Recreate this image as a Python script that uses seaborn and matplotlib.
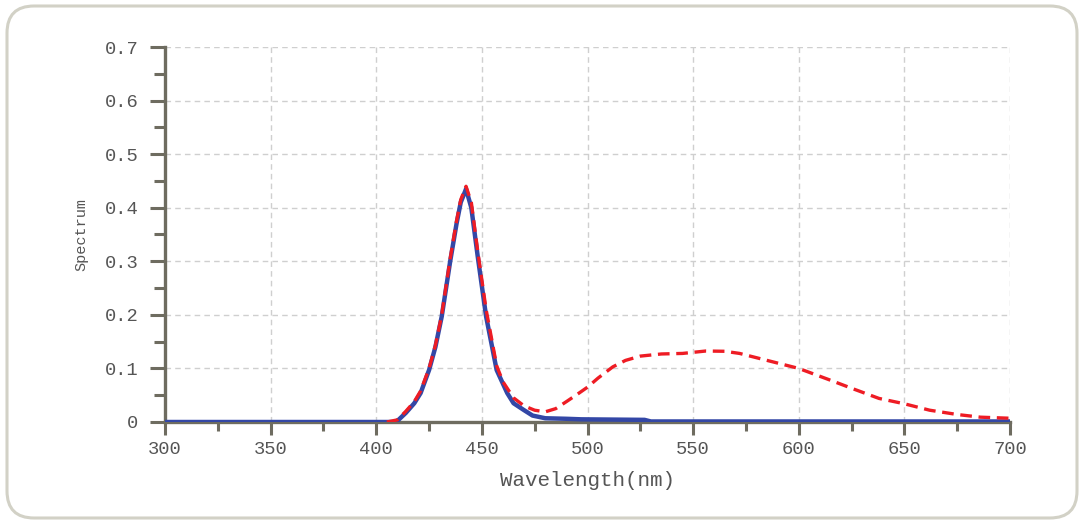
import matplotlib
matplotlib.use("Agg")
import matplotlib.pyplot as plt
from matplotlib.patches import FancyBboxPatch
from matplotlib.ticker import MultipleLocator
import seaborn as sns
import pandas as pd

# Blue (LED chip) spectrum
blue_wl = [300, 350, 400, 408, 410, 414, 418, 421, 425, 428, 431, 435, 438, 440, 442.5,
           445, 448, 452, 457, 462, 465, 470, 474, 480, 490, 497, 527, 530, 600, 700]
blue_val = [0, 0, 0, 0, 0.002, 0.017, 0.035, 0.054, 0.097, 0.14, 0.197, 0.30, 0.37, 0.41, 0.435,
            0.40, 0.31, 0.197, 0.097, 0.054, 0.035, 0.022, 0.012, 0.007, 0.006, 0.005, 0.004, 0.001, 0.001, 0.001]

# Red (white LED) spectrum
red_wl = [405, 410, 414, 418, 421, 425, 428, 431, 435, 438, 440, 442.5, 445, 448, 452, 457, 460,
          465, 470, 475, 480, 485, 490, 496, 500, 505, 512, 518, 525, 535, 545, 556, 565, 572,
          580, 591, 600, 615, 625, 638, 650, 662, 675, 686, 700]
red_val = [0, 0.004, 0.02, 0.038, 0.058, 0.10, 0.143, 0.20, 0.305, 0.375, 0.415, 0.44, 0.41, 0.32,
           0.21, 0.105, 0.075, 0.045, 0.03, 0.022, 0.019, 0.025, 0.038, 0.054, 0.065, 0.082,
           0.103, 0.115, 0.123, 0.127, 0.128, 0.1325, 0.132, 0.128, 0.12, 0.109, 0.10, 0.078,
           0.063, 0.044, 0.034, 0.022, 0.014, 0.009, 0.007]

x_ticks = [300, 350, 400, 450, 500, 550, 600, 650, 700]
y_ticks = [0, 0.1, 0.2, 0.3, 0.4, 0.5, 0.6, 0.7]
y_tick_labels = ["0", "0.1", "0.2", "0.3", "0.4", "0.5", "0.6", "0.7"]

sns.set_style("white")
plt.rcParams['font.family'] = ['Liberation Mono', 'DejaVu Sans Mono']

fig = plt.figure(figsize=(10.83, 5.23), dpi=100)
ax = fig.add_axes([165 / 1083, 1 - 422 / 523, (1010 - 165) / 1083, (422 - 47) / 523])

blue_df = pd.DataFrame({"wl": blue_wl, "val": blue_val})
red_df = pd.DataFrame({"wl": red_wl, "val": red_val})

sns.lineplot(data=blue_df, x="wl", y="val", ax=ax, color="#3347a6", lw=3.2,
             estimator=None, sort=False, zorder=3)
sns.lineplot(data=red_df, x="wl", y="val", ax=ax, color="#ee1c24", lw=2.4,
             estimator=None, sort=False, zorder=4, linestyle=(0, (3.5, 2.0)))

ax.set_xlim(300, 700)
ax.set_ylim(0, 0.7)
ax.set_xticks(x_ticks)
ax.set_yticks(y_ticks)
ax.set_yticklabels(y_tick_labels)
ax.xaxis.set_minor_locator(MultipleLocator(25))
ax.yaxis.set_minor_locator(MultipleLocator(0.05))

spine_col = "#6e6c60"
for s in ["top", "right"]:
    ax.spines[s].set_visible(False)
for s in ["left", "bottom"]:
    ax.spines[s].set_color(spine_col)
    ax.spines[s].set_linewidth(2.4)
    ax.spines[s].set_zorder(2)

ax.tick_params(axis="both", which="both", color=spine_col, width=2.2, labelcolor="#555555",
               labelsize=13.5)
ax.tick_params(axis="x", which="major", length=9, direction="out", pad=5, bottom=True)
ax.tick_params(axis="x", which="minor", length=6.5, direction="out", bottom=True)
ax.tick_params(axis="y", which="major", length=11, direction="out", pad=8, left=True)
ax.tick_params(axis="y", which="minor", length=8, direction="out", left=True)

ax.grid(True, which="major", color="#cfcfcf", linestyle=(0, (4, 3)), linewidth=1.0, zorder=0)
ax.set_axisbelow(True)

ax.set_xlabel("Wavelength(nm)", fontsize=15, color="#555555", labelpad=9)
ax.set_ylabel("Spectrum", fontsize=11, color="#555555", labelpad=12)

border = FancyBboxPatch((7 / 1083, 5 / 523), (1077 - 7) / 1083, (517 - 5) / 523,
                        boxstyle="round,pad=0,rounding_size=0.025",
                        transform=fig.transFigure, facecolor="none",
                        edgecolor="#d2d1c6", linewidth=2.2, mutation_aspect=1083 / 523)
fig.patches.append(border)

fig.savefig("out.png", dpi=100, facecolor="white")
